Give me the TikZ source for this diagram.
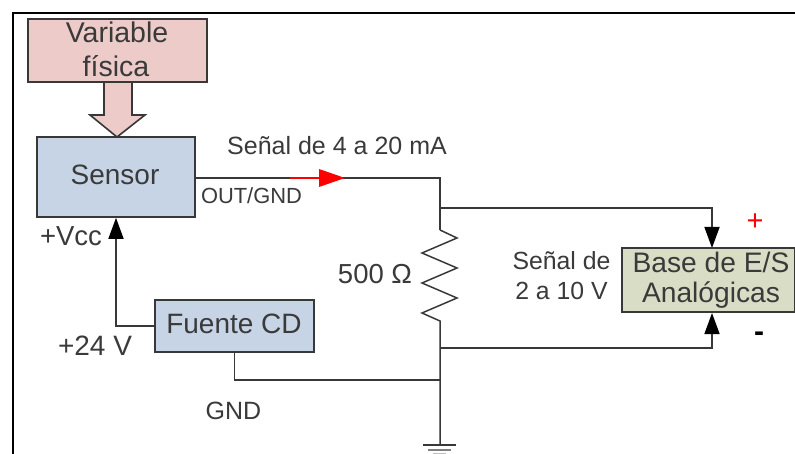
\documentclass[tikz,border=0pt]{standalone}
\usepackage{fontspec}
\setmainfont{Liberation Sans}
\usetikzlibrary{arrows.meta}
\definecolor{boxblue}{HTML}{C6D4E5}
\definecolor{boxpink}{HTML}{EDCBC9}
\definecolor{boxgreen}{HTML}{D9DDC5}
\definecolor{txt}{HTML}{3A3A3A}
\definecolor{edge}{HTML}{383838}
\tikzset{
  x=1pt,y=-1pt,
  fs/.style={font=\fontsize{#1}{#1}\selectfont,text=txt,inner sep=0pt,align=center},
  bx/.style={draw=edge,line width=1.6pt,inner sep=0pt},
  wire/.style={draw=edge,line width=1.5pt},
  tip/.style={-{Triangle[length=21pt,width=15pt,color=black]}},
}
\begin{document}
\begin{tikzpicture}
\useasboundingbox (0,0) rectangle (795,454);
\fill[white] (0,0) rectangle (795,454);
\draw[black,line width=1.5pt] (13,454) -- (13,13) -- (795,13);
% Variable fisica
\fill[boxpink,draw=edge,line width=1.6pt] (104,82) -- (104,115) -- (90,115) -- (117,137) -- (145,115) -- (132,115) -- (132,82) -- cycle;
\node[bx,fill=boxpink,minimum width=179pt,minimum height=63pt] (vf) at (117.5,50.5) {};
\node[fs=28.5] (vft1) at (117,32) {Variable};
\node[fs=28.5] (vft2) at (116,66) {física};
% Sensor
\node[bx,fill=boxblue,minimum width=158pt,minimum height=80pt] (sen) at (116,177) {};
\node[fs=28] (sent) at (115,175) {Sensor};
% Fuente
\node[bx,fill=boxblue,minimum width=159pt,minimum height=52pt] (fue) at (234.5,326) {};
\node[fs=28] (fuet) at (234,324) {Fuente CD};
% Base
\node[bx,fill=boxgreen,minimum width=173pt,minimum height=64pt] (base) at (708.5,280) {};
\node[fs=28.2] (baset1) at (711,262) {Base de E/S};
\node[fs=28.2] (baset2) at (711,295) {Analógicas};
% junction coordinates
\coordinate (corner) at (440,178);
\coordinate (jtop) at (440,208);
\coordinate (rtop) at (440,230);
\coordinate (jbot) at (440,348);
\coordinate (jgnd) at (440,380);
\coordinate (gnd) at (440,445);
\coordinate (redstart) at (290,178);
\coordinate (basetop) at (712,248);
\coordinate (basebot) at (712,313);
% wires
\draw[wire] (sen.east |- corner) -- (corner) -- (jtop) -- (rtop);
\draw[wire,line join=miter] (rtop) -- (457,238) -- (422,253) -- (457,268) -- (422,283) -- (457,298) -- (422,313) -- (440,321) -- (jbot) -- (jgnd) -- (gnd);
\draw[red,line width=1.5pt] (redstart) -- (320,178);
\fill[red] (319,169) -- (345,178) -- (319,187) -- cycle;
\draw[wire,tip] (jtop) -| (basetop);
\draw[wire,tip] (jbot) -| (basebot);
\draw[wire,tip] (fue.west) -| (sen.south);
\draw[wire] (fue.south) |- (jgnd);
% ground
\draw[edge,line width=1.6pt] (423,445) -- (456,445);
\draw[gray,line width=1.6pt] (428,450) -- (451,450);
\draw[lightgray,line width=1.5pt] (433,453.5) -- (446,453.5);
% labels
\node[fs=25] (l1) at (337,146) {Señal de 4 a 20 mA};
\node[fs=21.9] (l2) at (251.5,196) {OUT/GND};
\node[fs=27.5] (l3) at (71,236) {+Vcc};
\node[fs=28] (l4) at (95,346) {+24 V};
\node[fs=25] (l5) at (233.5,411) {GND};
\node[fs=27.5] (l6) at (375,274) {500 Ω};
\node[fs=24.8] (l7) at (561.5,261) {Señal de};
\node[fs=24.8] (l8) at (561.5,291) {2 a 10 V};
\node[fs=29,text=red] (pl) at (755,222) {+};
\node[text=black,inner sep=0pt,font=\fontsize{30}{30}\selectfont\bfseries] (mi) at (759,337) {-};
\end{tikzpicture}
\end{document}
